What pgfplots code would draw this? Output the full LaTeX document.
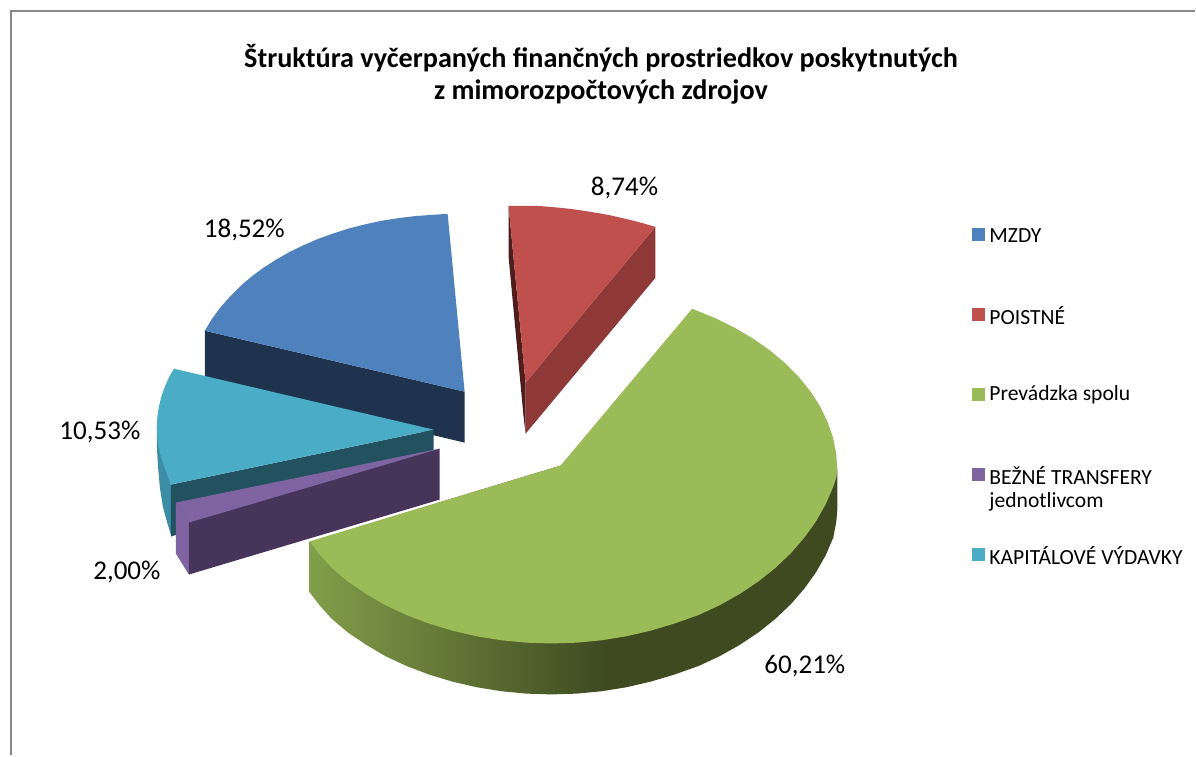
\documentclass[border=0pt]{standalone}
\usepackage{pgfplots}
\pgfplotsset{compat=1.18}
\usepackage{fontspec}
\setmainfont{Carlito}
\definecolor{cblue}{HTML}{4F81BD}
\definecolor{cblued}{HTML}{1F334E}
\definecolor{cred}{HTML}{C0504D}
\definecolor{credd}{HTML}{8E3937}
\definecolor{credk}{HTML}{4F1D1C}
\definecolor{cgreen}{HTML}{9BBB59}
\definecolor{cgreenl}{HTML}{829E4A}
\definecolor{cgreend}{HTML}{3F4A21}
\definecolor{cpurple}{HTML}{8064A2}
\definecolor{cpurpled}{HTML}{46345A}
\definecolor{cteal}{HTML}{4BACC6}
\definecolor{cteald}{HTML}{245160}
\definecolor{ctealm}{HTML}{3C8EA6}
\pgfdeclarehorizontalshading{greenside}{100bp}{color(0bp)=(cgreenl);color(25bp)=(cgreenl);color(53bp)=(cgreend);color(100bp)=(cgreend)}
\begin{document}
\begin{tikzpicture}
\begin{axis}[
  at={(0,0)}, anchor=south west,
  width=897pt, height=567pt, scale only axis,
  xmin=0, xmax=1196, ymin=0, ymax=756, y dir=reverse,
  hide axis, clip=false,
  every axis plot/.append style={forget plot}]
% page extent and chart frame
\addplot[white, line width=0pt] coordinates {(0,0)(1196,756)};
\addplot[draw=black!47, line width=1.5pt] coordinates {(11.5,756)(11.5,11)(1196,11)};
% MZDY 18,52
\addplot[fill=cblued, draw=none] coordinates {(205,331)(465,392)(465,443)(205,381)};
\addplot[fill=cblue, draw=none] coordinates {(465,392)(448,214)(433,215)(416,216.2)(399,218.3)(382.2,220.9)(365.5,224.5)(349.6,228.5)(334,233.5)(318.6,239)(304,245.3)(289.9,252.1)(277,259.5)(264.2,267.6)(252.5,276.2)(241.7,285.3)(231,296)(220.6,307.6)(212,319.4)(205,331)};
% KAPITALOVE 10,53
\addplot[fill=ctealm, draw=none] coordinates {(157,427)(157,447)(158,465)(160,488)(163,507)(167,522)(171,535)(171,485)};
\addplot[fill=cteald, draw=none] coordinates {(171,485)(434,430)(434,452)(171,537)};
\addplot[fill=cteal, draw=none] coordinates {(434,430)(174,369)(169,378)(165,387)(161.5,397)(159,407)(157.5,417)(157,427)(157.5,440)(160,453)(165,469)(171,485)};
% BEZNE TRANSFERY 2,00
\addplot[fill=cpurple, draw=none] coordinates {(176,503)(189,523)(189,575)(176,554)};
\addplot[fill=cpurpled, draw=none] coordinates {(189,523)(440,449)(440,500)(189,575)};
\addplot[fill=cpurple, draw=none] coordinates {(176,503)(440,449)(189,523)};
% POISTNE 8,74
\addplot[fill=credk, draw=none] coordinates {(509,206)(526,383)(526,434)(524,417)(509,257)};
\addplot[fill=credd, draw=none] coordinates {(526,383)(656,227)(656,278)(526,434)};
\addplot[fill=cred, draw=none] coordinates {(526,383)(509,206)(520,206)(530,206)(540,206.2)(550,207)(561,208)(573,209.3)(586,211.2)(600,213.5)(613,216)(627,219.2)(642,223)(656,227)};
% Prevadzka spolu 60,21: side
\addplot[shading=greenside, draw=none] coordinates {(838,470)(838,510)(837,522)(834,538)(826.5,555.5)(816.8,572.6)(805.1,589)(791.6,604.6)(776.1,619.3)(759.1,632.9)(740.4,645.4)(720.3,656.7)(699,666.6)(675,675.1)(651.2,682.2)(627,687.8)(602.3,691.8)(577.3,694.2)(552,695)(526.7,694.2)(501.7,691.8)(477,687.8)(452.8,682.2)(429.4,675.1)(407,666.6)(385.7,656.7)(366.6,645.4)(348,632.9)(332,619.3)(320,606)(310,593)(310,542)(561,466)};
% Prevadzka spolu 60,21: top
\addplot[fill=cgreen, draw=none] coordinates {(561,466)(692.7,309)(716,318.4)(735.8,328.3)(754.2,339.2)(771.1,351.1)(786.3,363.9)(799.7,377.5)(811.2,391.8)(820.8,406.7)(828.2,422.1)(833.7,437.9)(836.9,453.9)(838,470)(837,478)(834,487)(826.5,504.5)(816.8,521.6)(805.1,538)(791.6,553.6)(776.1,568.3)(759.1,581.9)(740.4,594.4)(720.3,605.7)(699,615.6)(675,624.1)(651.2,631.2)(627,636.8)(602.3,640.8)(577.3,643.2)(552,644)(526.7,643.2)(501.7,640.8)(477,636.8)(452.8,631.2)(429.4,624.1)(407,615.6)(385.7,605.7)(366.6,594.4)(348,581.9)(332,568.3)(320,555)(310,542)};
% legend keys
\addplot[only marks, mark=square*, mark size=4.5pt, mark options={solid, draw=cblue, fill=cblue, line width=0pt}] coordinates {(979,235)};
\addplot[only marks, mark=square*, mark size=4.5pt, mark options={solid, draw=cred, fill=cred, line width=0pt}] coordinates {(979,315)};
\addplot[only marks, mark=square*, mark size=4.5pt, mark options={solid, draw=cgreen, fill=cgreen, line width=0pt}] coordinates {(979,395)};
\addplot[only marks, mark=square*, mark size=4.5pt, mark options={solid, draw=cpurple, fill=cpurple, line width=0pt}] coordinates {(979,475)};
\addplot[only marks, mark=square*, mark size=4.5pt, mark options={solid, draw=cteal, fill=cteal, line width=0pt}] coordinates {(979,555)};
% legend text
\def\lg{\fontsize{16.2pt}{18pt}\selectfont}
\node[anchor=west, inner sep=0pt, font=\lg] at (axis cs:990,235.5) {MZDY};
\node[anchor=west, inner sep=0pt, font=\lg] at (axis cs:990,315.5) {POISTNÉ};
\node[anchor=west, inner sep=0pt, font=\lg] at (axis cs:990,395.5) {Prevádzka spolu};
\node[anchor=west, inner sep=0pt, font=\lg] at (axis cs:990,475.5) {BEŽNÉ TRANSFERY};
\node[anchor=west, inner sep=0pt, font=\lg] at (axis cs:990,502) {jednotlivcom};
\node[anchor=west, inner sep=0pt, font=\lg] at (axis cs:990,556) {KAPITÁLOVÉ VÝDAVKY};
% data labels
\def\dl{\fontsize{20.3pt}{22pt}\selectfont}
\node[inner sep=0pt, font=\dl] at (axis cs:244.5,230) {18,52\%};
\node[inner sep=0pt, font=\dl] at (axis cs:625,188) {8,74\%};
\node[inner sep=0pt, font=\dl] at (axis cs:100,432) {10,53\%};
\node[inner sep=0pt, font=\dl] at (axis cs:127,572) {2,00\%};
\node[inner sep=0pt, font=\dl] at (axis cs:805.5,667) {60,21\%};
% title
\def\tl{\fontsize{21.15pt}{24pt}\selectfont\bfseries}
\node[inner sep=0pt, font=\tl] at (axis cs:601.5,58) {Štruktúra vyčerpaných finančných prostriedkov poskytnutých};
\node[inner sep=0pt, font=\tl] at (axis cs:601.5,92) {z mimorozpočtových zdrojov};
\end{axis}
\end{tikzpicture}
\end{document}
